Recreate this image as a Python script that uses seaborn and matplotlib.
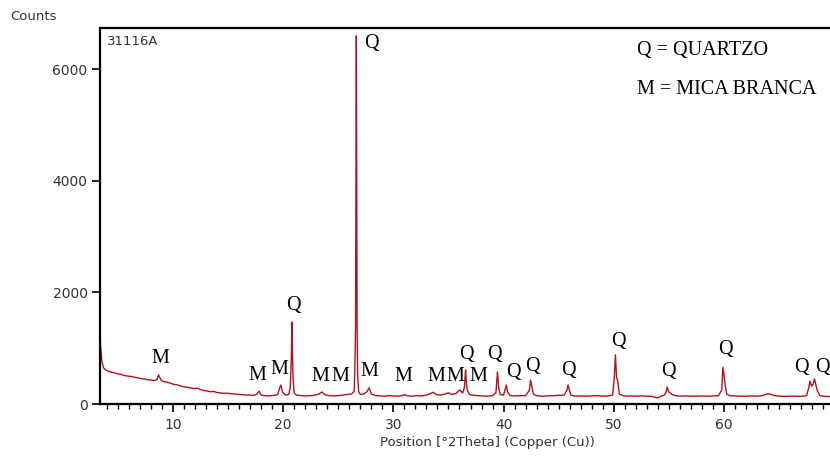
import numpy as np
import pandas as pd
import matplotlib
matplotlib.use('Agg')
import matplotlib.pyplot as plt
import seaborn as sns
from matplotlib.ticker import MultipleLocator

# ─────────────────────────────────────────────
# DATA: diffractogram
# ─────────────────────────────────────────────
two_theta = [3.40, 3.45, 3.55, 3.7, 3.9, 4.1, 4.4, 4.7, 5.0, 5.3, 5.6, 5.9, 6.2, 6.5, 6.8,
             7.1, 7.4, 7.7, 8.0, 8.3, 8.55, 8.7, 8.8, 8.95, 9.2, 9.5, 9.8, 10.1, 10.4, 10.7,
             11.0, 11.3, 11.6, 11.9, 12.2, 12.5, 12.8, 13.1, 13.4, 13.7, 14.0, 14.3, 14.6,
             14.9, 15.2, 15.5, 15.8, 16.1, 16.4, 16.7, 17.0, 17.3, 17.6, 17.8, 18.0, 18.3,
             18.6, 18.9, 19.2, 19.5, 19.7, 19.8, 19.95, 20.2, 20.5, 20.65, 20.75, 20.8, 20.85,
             20.9, 21.0, 21.2, 21.6, 22.0, 22.4, 22.8, 23.2, 23.5, 23.8, 24.2, 24.6, 25.0,
             25.4, 25.8, 26.2, 26.45, 26.53, 26.57, 26.6, 26.62, 26.64, 26.66, 26.68, 26.71,
             26.76, 26.85, 27.0, 27.3, 27.6, 27.8, 28.0, 28.4, 28.8, 29.2, 29.6, 30.0, 30.4,
             30.8, 31.0, 31.3, 31.7, 32.1, 32.5, 32.9, 33.3, 33.6, 33.9, 34.3, 34.7, 35.0,
             35.3, 35.7, 36.0, 36.3, 36.45, 36.55, 36.6, 36.7, 36.9, 37.2, 37.6, 38.0, 38.5,
             39.0, 39.3, 39.45, 39.55, 39.7, 40.0, 40.25, 40.35, 40.6, 41.0, 41.5, 42.0,
             42.35, 42.45, 42.55, 42.7, 43.0, 43.5, 44.0, 44.5, 45.0, 45.5, 45.75, 45.85,
             45.95, 46.1, 46.5, 47.0, 47.5, 48.0, 48.5, 49.0, 49.5, 49.9, 50.05, 50.15, 50.25,
             50.35, 50.5, 50.8, 51.2, 51.6, 52.0, 52.5, 53.0, 53.5, 54.0, 54.3, 54.6, 54.75,
             54.85, 54.95, 55.1, 55.3, 55.6, 56.0, 56.5, 57.0, 57.5, 58.0, 58.5, 59.0, 59.5,
             59.8, 59.9, 60.0, 60.1, 60.25, 60.5, 61.0, 61.5, 62.0, 62.5, 63.0, 63.5, 64.0,
             64.3, 64.6, 65.0, 65.5, 66.0, 66.5, 67.0, 67.5, 67.7, 67.8, 67.95, 68.1, 68.2,
             68.3, 68.45, 68.7, 69.0, 69.4, 69.7]
counts = [1180, 1000, 760, 650, 610, 590, 570, 560, 540, 530, 510, 500, 495, 480, 470,
          455, 450, 435, 430, 420, 440, 520, 480, 420, 400, 390, 370, 350, 345, 320,
          310, 300, 290, 275, 285, 260, 240, 235, 220, 225, 205, 200, 190,
          195, 185, 180, 175, 170, 165, 160, 160, 155, 175, 230, 160, 150,
          145, 150, 155, 170, 300, 340, 210, 160, 170, 300, 900, 1470, 900,
          450, 200, 160, 150, 145, 150, 155, 175, 215, 165, 150, 145, 150,
          160, 170, 180, 230, 900, 1420, 3200, 4900, 6600, 4900, 3200, 1420,
          500, 220, 170, 180, 220, 290, 180, 150, 145, 140, 150, 145, 140,
          150, 170, 145, 140, 150, 145, 155, 180, 210, 170, 160, 180, 200,
          170, 190, 250, 200, 300, 610, 450, 250, 170, 160, 150, 145, 140,
          150, 200, 575, 300, 170, 160, 340, 220, 150, 145, 150, 150,
          250, 430, 330, 180, 150, 140, 145, 150, 155, 160, 250, 340,
          270, 160, 140, 145, 140, 145, 150, 140, 145, 160, 480, 880, 480,
          420, 180, 150, 140, 145, 140, 145, 140, 135, 110, 140, 160, 220,
          305, 230, 200, 170, 150, 140, 145, 140, 140, 145, 140, 145, 150,
          250, 660, 520, 350, 180, 150, 145, 140, 140, 145, 140, 150, 185,
          170, 150, 140, 135, 140, 140, 135, 150, 300, 410, 320, 360, 450,
          380, 250, 150, 140, 135, 130]

# phase labels: letter, 2theta, counts (text centre)
label_text = ['M', 'M', 'M', 'Q', 'M', 'M', 'Q', 'M', 'M', 'M', 'M', 'M',
              'Q', 'Q', 'Q', 'Q', 'Q', 'Q', 'Q', 'Q', 'Q', 'Q']
label_x = [8.82, 17.62, 19.62, 20.89, 23.34, 25.15, 27.97, 27.79, 30.87, 33.87, 35.59, 37.68,
           36.59, 39.13, 40.94, 42.58, 45.93, 50.38, 54.92, 60.09, 66.99, 68.90]
label_y = [824, 502, 627, 1774, 484, 484, 6469, 591, 484, 484, 484, 484,
           896, 896, 556, 681, 609, 1129, 591, 968, 663, 663]

df = pd.DataFrame({'two_theta': two_theta, 'counts': counts})

# ─────────────────────────────────────────────
# PLOT
# ─────────────────────────────────────────────
sns.set_theme(style='white')
plt.rcParams['font.family'] = ['DejaVu Sans']

fig = plt.figure(figsize=(8.3, 4.63), dpi=100)
ax = fig.add_axes([100 / 830, 1 - 404 / 463, 1 - 100 / 830, (404 - 28) / 463])

sns.lineplot(data=df, x='two_theta', y='counts', ax=ax, color='#b0121c', lw=1.0)

ax.set_xlim(3.38, 69.62)
ax.set_ylim(0, 6740)
ax.set_xticks([10, 20, 30, 40, 50, 60])
ax.xaxis.set_minor_locator(MultipleLocator(1))
ax.set_yticks([0, 2000, 4000, 6000])

for side in ['left', 'bottom', 'top']:
    ax.spines[side].set_color('black')
    ax.spines[side].set_linewidth(1.6)
ax.spines['right'].set_visible(False)

ax.tick_params(axis='both', which='major', direction='out', length=6, width=1.2,
               colors='black', labelcolor='#333333', labelsize=10)
ax.tick_params(axis='x', which='minor', direction='out', length=3.5, width=1.0,
               colors='black', bottom=True)
ax.tick_params(axis='x', which='major', bottom=True, pad=4)
ax.tick_params(axis='y', which='major', left=True, pad=3)

ax.set_xlabel('Position [°2Theta] (Copper (Cu))', fontsize=9.5, color='#333333')
ax.xaxis.set_label_coords((487 - 100) / 730, -0.085)
ax.set_ylabel('')

fig.text(10 / 830, 1 - 17 / 463, 'Counts', fontsize=9.5, color='#333333', va='center')
ax.text(0.009, 0.965, '31116A', transform=ax.transAxes, fontsize=9.5,
        color='#333333', va='center', ha='left')

for t, x, y in zip(label_text, label_x, label_y):
    ax.text(x, y, t, ha='center', va='center', fontsize=14.5,
            family='Liberation Serif', color='black')

fig.text(637 / 830, 1 - 51 / 463, 'Q = QUARTZO', fontsize=14.5,
         family='Liberation Serif', va='center', ha='left', color='black')
fig.text(637 / 830, 1 - 90 / 463, 'M = MICA BRANCA', fontsize=14.5,
         family='Liberation Serif', va='center', ha='left', color='black')

fig.savefig('out.png', dpi=100)
plt.close(fig)
